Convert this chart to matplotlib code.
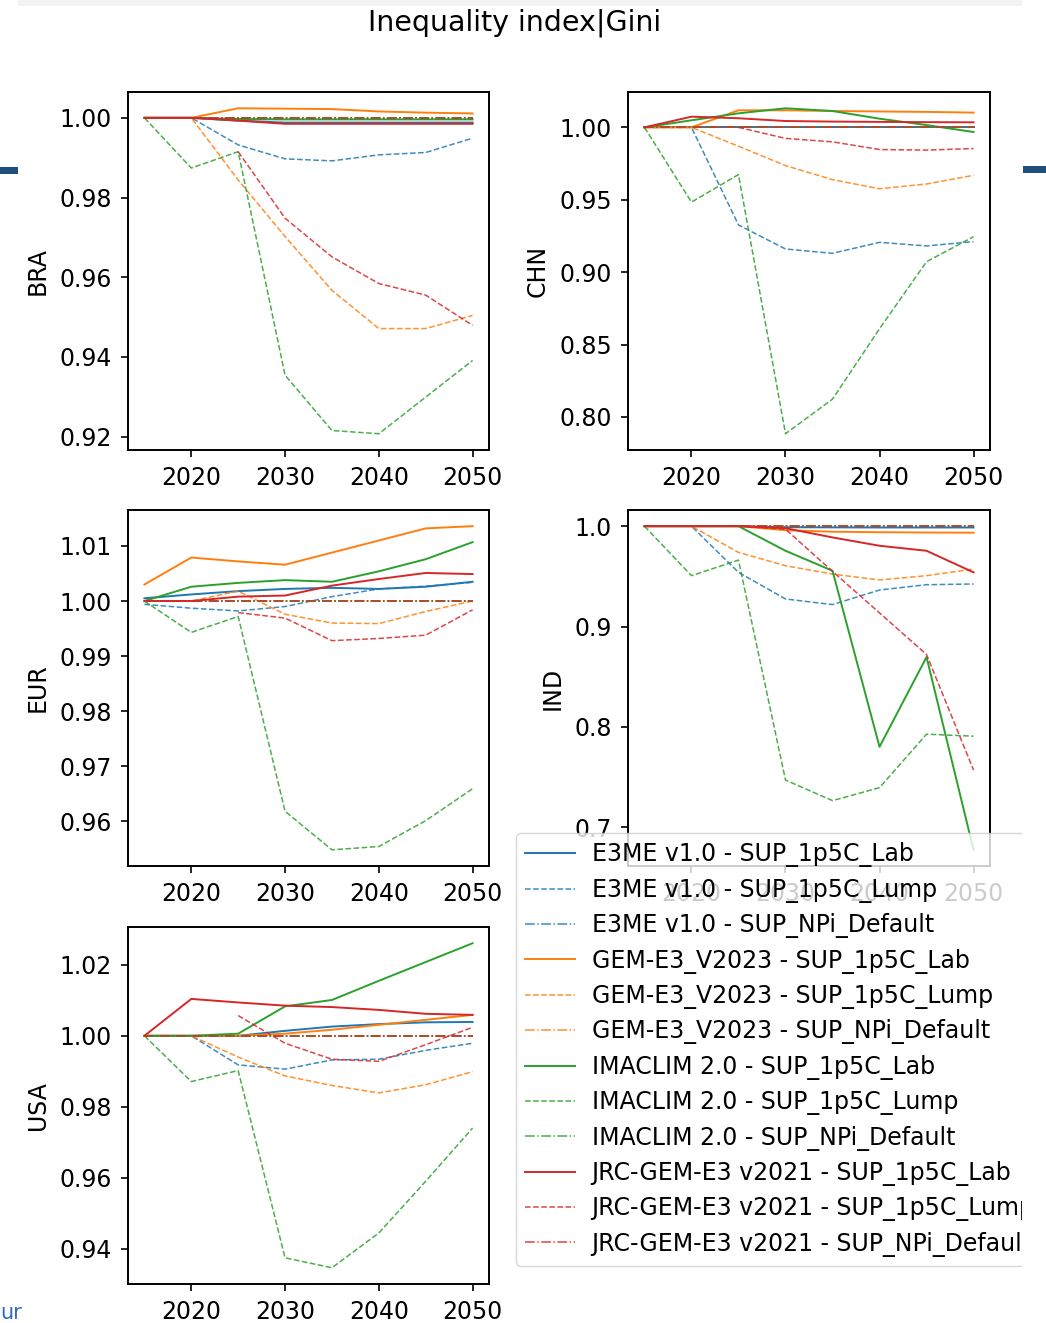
import numpy as np
import matplotlib
matplotlib.use('Agg')
import matplotlib.pyplot as plt
from matplotlib.patches import Rectangle
from matplotlib.ticker import MultipleLocator

# --- Data ---
YEARS = [2015, 2020, 2025, 2030, 2035, 2040, 2045, 2050]

MODELS = ["E3ME v1.0", "GEM-E3_V2023", "IMACLIM 2.0", "JRC-GEM-E3 v2021"]
SCENARIOS = ["SUP_1p5C_Lab", "SUP_1p5C_Lump", "SUP_NPi_Default"]

nan = np.nan
# rows: model x scenario, same order as the legend
BRA = [
    [1.0, 1.0, 0.9993, 0.9988, 0.9988, 0.9988, 0.9988, 0.9988],
    [1.0, 1.0, 0.9932, 0.9897, 0.9892, 0.9907, 0.9913, 0.9949],
    [1.0, 1.0, 1.0, 1.0, 1.0, 1.0, 1.0, 1.0],
    [1.0, 1.0, 1.0024, 1.0023, 1.0022, 1.0016, 1.0013, 1.0011],
    [1.0, 1.0, 0.9844, 0.9702, 0.9567, 0.9471, 0.9471, 0.9504],
    [1.0, 1.0, 1.0, 1.0, 1.0, 1.0, 1.0, 1.0],
    [1.0, 1.0, 0.9997, 0.9996, 0.9996, 0.9996, 0.9996, 0.9996],
    [1.0, 0.9874, 0.9915, 0.9354, 0.9215, 0.9207, 0.9299, 0.9391],
    [1.0, 1.0, 1.0, 1.0, 1.0, 1.0, 1.0, 1.0],
    [1.0, 1.0, 0.9993, 0.9985, 0.9985, 0.9985, 0.9985, 0.9985],
    [nan, nan, 0.9915, 0.9748, 0.9651, 0.9584, 0.9555, 0.9479],
    [1.0, 1.0, 1.0, 1.0, 1.0, 1.0, 1.0, 1.0],
]
CHN = [
    [1.0, 1.0, 1.0, 1.0, 1.0, 1.0, 1.0, 1.0],
    [1.0, 1.0, 0.9326, 0.9160, 0.9130, 0.9206, 0.9181, 0.9211],
    [1.0, 1.0, 1.0, 1.0, 1.0, 1.0, 1.0, 1.0],
    [1.0, 1.0, 1.0118, 1.0118, 1.0113, 1.0110, 1.0107, 1.0102],
    [1.0, 1.0, 0.9870, 0.9736, 0.9639, 0.9576, 0.9609, 0.9669],
    [1.0, 1.0, 1.0, 1.0, 1.0, 1.0, 1.0, 1.0],
    [1.0, 1.0049, 1.0097, 1.0132, 1.0113, 1.0060, 1.0016, 0.9968],
    [1.0, 0.9484, 0.9674, 0.7884, 0.8123, 0.8609, 0.9072, 0.9245],
    [1.0, 1.0, 1.0, 1.0, 1.0, 1.0, 1.0, 1.0],
    [1.0, 1.0074, 1.0063, 1.0044, 1.0040, 1.0038, 1.0036, 1.0035],
    [nan, nan, 1.0, 0.9924, 0.9900, 0.9847, 0.9843, 0.9854],
    [1.0, 1.0, 1.0, 1.0, 1.0, 1.0, 1.0, 1.0],
]
EUR = [
    [1.0005, 1.0012, 1.0018, 1.0022, 1.0024, 1.0022, 1.0026, 1.0035],
    [0.9994, 0.9987, 0.9982, 0.9990, 1.0008, 1.0022, 1.0027, 1.0034],
    [1.0, 1.0, 1.0, 1.0, 1.0, 1.0, 1.0, 1.0],
    [1.0030, 1.0079, 1.0072, 1.0066, 1.0088, 1.0110, 1.0132, 1.0136],
    [1.0, 1.0, 1.0018, 0.9976, 0.9960, 0.9959, 0.9981, 1.0],
    [1.0, 1.0, 1.0, 1.0, 1.0, 1.0, 1.0, 1.0],
    [1.0, 1.0026, 1.0033, 1.0038, 1.0035, 1.0054, 1.0076, 1.0107],
    [1.0, 0.9943, 0.9972, 0.9618, 0.9548, 0.9554, 0.9601, 0.9659],
    [1.0, 1.0, 1.0, 1.0, 1.0, 1.0, 1.0, 1.0],
    [1.0, 1.0, 1.0008, 1.0010, 1.0028, 1.0040, 1.0051, 1.0049],
    [nan, nan, 0.9979, 0.9969, 0.9928, 0.9932, 0.9938, 0.9984],
    [1.0, 1.0, 1.0, 1.0, 1.0, 1.0, 1.0, 1.0],
]
IND = [
    [1.0, 1.0, 1.0, 0.9990, 0.9988, 0.9987, 0.9987, 0.9987],
    [1.0, 1.0, 0.9540, 0.9275, 0.9219, 0.9364, 0.9417, 0.9424],
    [1.0, 1.0, 1.0, 1.0, 1.0, 1.0, 1.0, 1.0],
    [1.0, 1.0, 1.0, 0.9960, 0.9945, 0.9940, 0.9937, 0.9935],
    [1.0, 1.0, 0.9739, 0.9606, 0.9523, 0.9464, 0.9507, 0.9573],
    [1.0, 1.0, 1.0, 1.0, 1.0, 1.0, 1.0, 1.0],
    [1.0, 1.0, 1.0, 0.9755, 0.9556, 0.7802, 0.8696, 0.6776],
    [1.0, 0.9507, 0.9662, 0.7471, 0.7266, 0.7395, 0.7928, 0.7908],
    [1.0, 1.0, 1.0, 1.0, 1.0, 1.0, 1.0, 1.0],
    [1.0, 1.0, 1.0, 0.9980, 0.9888, 0.9805, 0.9755, 0.9540],
    [nan, nan, 1.0, 0.9970, 0.9550, 0.9136, 0.8722, 0.7570],
    [1.0, 1.0, 1.0, 1.0, 1.0, 1.0, 1.0, 1.0],
]
USA = [
    [1.0, 1.0, 1.0, 1.0014, 1.0026, 1.0033, 1.0038, 1.0039],
    [1.0, 1.0, 0.9918, 0.9906, 0.9932, 0.9934, 0.9959, 0.9979],
    [1.0, 1.0, 1.0, 1.0, 1.0, 1.0, 1.0, 1.0],
    [1.0, 1.0, 1.0, 1.0006, 1.0017, 1.0031, 1.0045, 1.0059],
    [1.0, 1.0, 0.9940, 0.9887, 0.9860, 0.9839, 0.9862, 0.9899],
    [1.0, 1.0, 1.0, 1.0, 1.0, 1.0, 1.0, 1.0],
    [1.0, 1.0, 1.0006, 1.0083, 1.0101, 1.0155, 1.0208, 1.0261],
    [1.0, 0.9871, 0.9902, 0.9374, 0.9346, 0.9444, 0.9590, 0.9740],
    [1.0, 1.0, 1.0, 1.0, 1.0, 1.0, 1.0, 1.0],
    [1.0, 1.0104, 1.0094, 1.0085, 1.0081, 1.0073, 1.0062, 1.0059],
    [nan, nan, 1.0057, 0.9979, 0.9934, 0.9928, 0.9975, 1.0024],
    [1.0, 1.0, 1.0, 1.0, 1.0, 1.0, 1.0, 1.0],
]

REGIONS = ["BRA", "CHN", "EUR", "IND", "USA"]
REGION_DATA = [BRA, CHN, EUR, IND, USA]
Y_STEPS = [0.02, 0.05, 0.01, 0.1, 0.02]

# --- Style ---
W, H = 1046, 1323
COLORS = ["#1f77b4", "#ff7f0e", "#2ca02c", "#d62728"]
LINESTYLES = ["-", "--", "-."]
LINEWIDTHS = [1.4, 1.1, 1.1]
FS = 17

# axes boxes in pixels: left, top, right, bottom
BOXES = [
    (128, 92, 489, 450),
    (628, 92, 990, 450),
    (128, 510, 489, 866),
    (628, 510, 990, 866),
    (128, 927, 489, 1284),
]


def px_box(l, t, r, b):
    return [l / W, 1 - b / H, (r - l) / W, (b - t) / H]


plt.rcParams['font.family'] = ['DejaVu Sans']
fig = plt.figure(figsize=(W / 100, H / 100), dpi=100)

handles = []
for region, data, box, step in zip(REGIONS, REGION_DATA, BOXES, Y_STEPS):
    ax = fig.add_axes(px_box(*box))
    k = 0
    for mi, model in enumerate(MODELS):
        for si, scen in enumerate(SCENARIOS):
            line, = ax.plot(YEARS, data[k], color=COLORS[mi],
                            linestyle=LINESTYLES[si], linewidth=LINEWIDTHS[si],
                            alpha=1.0 if si == 0 else 0.85,
                            label=f"{model} - {scen}")
            if region == "BRA":
                handles.append(line)
            k += 1
    ax.set_ylabel(region, fontsize=FS, labelpad=7)
    ax.set_xticks([2020, 2030, 2040, 2050])
    ax.yaxis.set_major_locator(MultipleLocator(step))
    ax.tick_params(labelsize=FS, length=5, width=1.2, pad=6.5)
    for sp in ax.spines.values():
        sp.set_linewidth(1.4)

fig.suptitle("Inequality index|Gini", fontsize=20.5, x=515 / W, y=1 - 23 / H, va='center')

fig.legend(handles=handles, loc='upper left', fontsize=FS,
           bbox_to_anchor=(516 / W, 1 - 833 / H), borderaxespad=0,
           handlelength=2.1, handletextpad=0.7, labelspacing=0.44)

# page edges around the screenshot
fig.patches.append(Rectangle((1022 / W, 0), 24 / W, 1, transform=fig.transFigure,
                             facecolor='white', edgecolor='none', zorder=10))
fig.patches.append(Rectangle((18 / W, 1 - 6 / H), 1004 / W, 6 / H, transform=fig.transFigure,
                             facecolor='#f3f3f3', edgecolor='none', zorder=1))
fig.patches.append(Rectangle((0, 1 - 174 / H), 18 / W, 7 / H, transform=fig.transFigure,
                             facecolor='#1e4f7d', edgecolor='none', zorder=11))
fig.patches.append(Rectangle((1023 / W, 1 - 173 / H), 23 / W, 7 / H, transform=fig.transFigure,
                             facecolor='#1e4f7d', edgecolor='none', zorder=11))
fig.text(0, 0, "ur", color='#2a6ebb', fontsize=15, va='bottom', ha='left')

fig.savefig("out.png", dpi=100)
